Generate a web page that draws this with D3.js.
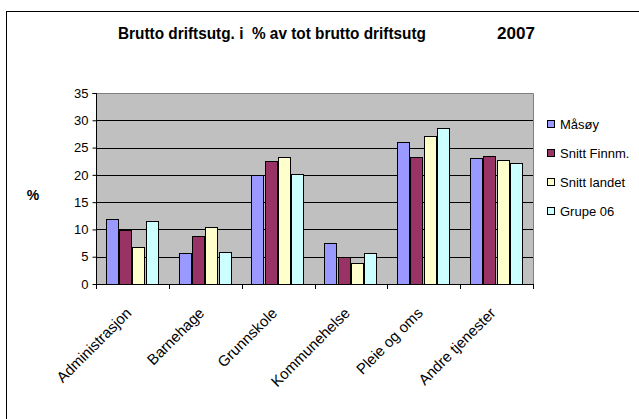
<!DOCTYPE html>
<html><head><meta charset="utf-8">
<script src="https://cdn.jsdelivr.net/npm/d3@7"></script>
<style>body{margin:0;background:#fff}svg{display:block;font-family:"Liberation Sans",Arial,sans-serif}</style>
</head><body><svg id="c" width="639" height="419"></svg>
<script>
const categories = ["Administrasjon","Barnehage","Grunnskole","Kommunehelse","Pleie og oms","Andre tjenester"];
const seriesNames = ["Måsøy","Snitt Finnm.","Snitt landet","Grupe 06"];
const masoy = [11.9, 5.6, 19.9, 7.6, 26.1, 23.0];
const snittFinnm = [9.9, 8.8, 22.5, 5.0, 23.3, 23.5];
const snittLandet = [6.7, 10.5, 23.3, 3.9, 27.2, 22.7];
const grupe06 = [11.6, 5.9, 20.1, 5.6, 28.6, 22.1];
const yTicks = [0,5,10,15,20,25,30,35];
const colors = ["#9999FF","#993366","#FFFFCC","#CCFFFF"];
const seriesValues = [masoy, snittFinnm, snittLandet, grupe06];

const svg = d3.select("#c");
svg.append("rect").attr("x",6.5).attr("y",11.5).attr("width",700).attr("height",500)
  .attr("fill","#fff").attr("stroke","#000").attr("stroke-width",1);

const L=96, R=533, T=93, B=284;
const x = d3.scaleBand().domain(categories).range([L,R]).paddingInner(0.27).paddingOuter(0.135);
const xs = d3.scaleBand().domain(seriesNames).range([0,x.bandwidth()]);
const y = d3.scaleLinear().domain([0,35]).range([B,T]);

svg.append("rect").attr("x",L).attr("y",T).attr("width",R-L).attr("height",B-T).attr("fill","#C0C0C0");
svg.append("g").selectAll("line").data(yTicks.filter(d=>d>0&&d<35)).join("line")
  .attr("x1",L).attr("x2",R).attr("y1",d=>Math.round(y(d))+0.5).attr("y2",d=>Math.round(y(d))+0.5)
  .attr("stroke","#000");
svg.append("path").attr("d",`M${L},${T+0.5}H${R+0.5}V${B}`).attr("fill","none").attr("stroke","#808080");

const g = svg.append("g");
seriesValues.forEach((vals,si)=>{
  g.append("g").selectAll("rect").data(vals).join("rect")
    .attr("x",(d,i)=>Math.round(x(categories[i])+xs(seriesNames[si]))+0.5)
    .attr("y",d=>Math.round(y(d))+0.5)
    .attr("width",Math.round(xs.bandwidth())-1)
    .attr("height",d=>Math.round(B)-Math.round(y(d)))
    .attr("fill",colors[si]).attr("stroke","#000").attr("stroke-width",1);
});

// y axis
const ya = svg.append("g").attr("transform",`translate(${L+0.5},0)`)
  .call(d3.axisLeft(y).tickValues(yTicks).tickSize(4).tickPadding(4));
ya.select(".domain").attr("d",`M-4,${T+0.5}H0V${B+0.5}`);
ya.selectAll("text").attr("font-size",13).attr("font-family","Liberation Sans, Arial").attr("fill","#000");
ya.selectAll("line").attr("stroke","#000");
// x axis
const step = (R-L)/categories.length;
const xa = svg.append("g");
xa.append("line").attr("x1",L).attr("x2",R).attr("y1",B+0.5).attr("y2",B+0.5).attr("stroke","#000");
xa.selectAll("line.t").data(d3.range(categories.length+1)).join("line").attr("class","t")
  .attr("x1",i=>Math.round(L+i*step)+0.5).attr("x2",i=>Math.round(L+i*step)+0.5)
  .attr("y1",B).attr("y2",B+5).attr("stroke","#000");
xa.selectAll("text").data(categories).join("text")
  .attr("transform",(d,i)=>`translate(${L+(i+0.5)*step},${B+30}) rotate(-45)`)
  .attr("text-anchor","end").attr("font-size",15).text(d=>d);

// title
svg.append("text").attr("x",118).attr("y",39).attr("font-size",17).attr("font-weight","bold")
  .attr("textLength",308).attr("lengthAdjust","spacingAndGlyphs")
  .style("white-space","pre").text("Brutto driftsutg. i  % av tot brutto driftsutg");
svg.append("text").attr("x",497).attr("y",39).attr("font-size",17).attr("font-weight","bold")
  .attr("textLength",38).attr("lengthAdjust","spacingAndGlyphs").text("2007");
svg.append("text").attr("x",33).attr("y",200).attr("font-size",14).attr("font-weight","bold")
  .attr("text-anchor","middle").text("%");

// legend
const lg = svg.append("g").selectAll("g").data(seriesNames).join("g")
  .attr("transform",(d,i)=>`translate(547,${124+i*29})`);
lg.append("rect").attr("x",0.5).attr("y",-3.5).attr("width",7).attr("height",7)
  .attr("fill",(d,i)=>colors[i]).attr("stroke","#000");
lg.append("text").attr("x",13).attr("y",0).attr("dy","0.36em").attr("font-size",13).text(d=>d);
</script></body></html>
